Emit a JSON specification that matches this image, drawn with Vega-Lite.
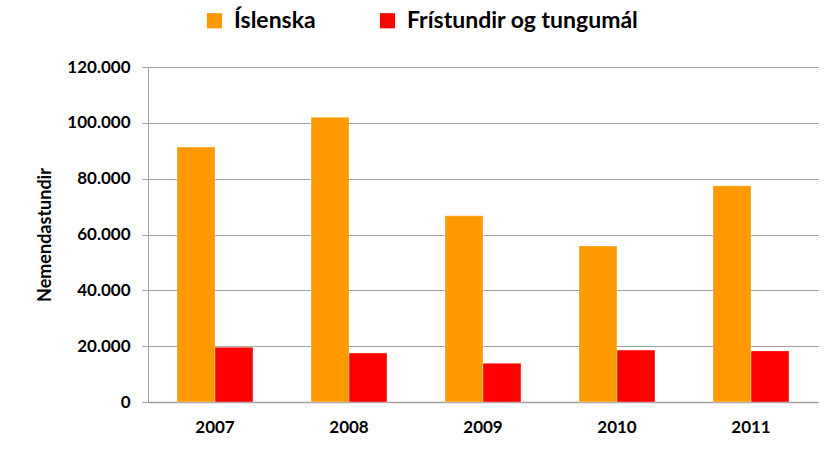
{
  "$schema": "https://vega.github.io/schema/vega-lite/v6.json",
  "autosize": "none",
  "width": 670,
  "height": 335,
  "padding": {"left": 148, "top": 67, "right": 13, "bottom": 47},
  "background": "white",
  "data": {
    "values": [
      {"ar": "2007", "flokkur": "Íslenska", "stundir": 91300},
      {"ar": "2007", "flokkur": "Frístundir og tungumál", "stundir": 19600},
      {"ar": "2008", "flokkur": "Íslenska", "stundir": 102000},
      {"ar": "2008", "flokkur": "Frístundir og tungumál", "stundir": 17550},
      {"ar": "2009", "flokkur": "Íslenska", "stundir": 66700},
      {"ar": "2009", "flokkur": "Frístundir og tungumál", "stundir": 13900},
      {"ar": "2010", "flokkur": "Íslenska", "stundir": 55900},
      {"ar": "2010", "flokkur": "Frístundir og tungumál", "stundir": 18600},
      {"ar": "2011", "flokkur": "Íslenska", "stundir": 77450},
      {"ar": "2011", "flokkur": "Frístundir og tungumál", "stundir": 18300}
    ]
  },
  "mark": {"type": "bar", "stroke": "white", "strokeOpacity": 0.35, "strokeWidth": 1},
  "encoding": {
    "x": {
      "field": "ar",
      "type": "nominal",
      "scale": {"paddingInner": 0.433, "paddingOuter": 0.2165},
      "axis": {
        "title": null,
        "labelAngle": 0,
        "ticks": false,
        "labelPadding": 17,
        "labelFontSize": 17,
        "labelFontWeight": "bold",
        "labelColor": "black",
        "domainColor": "#a0a0a0",
        "domainWidth": 1.5
      }
    },
    "xOffset": {
      "field": "flokkur",
      "type": "nominal",
      "sort": ["Íslenska", "Frístundir og tungumál"],
      "scale": {"paddingInner": 0, "paddingOuter": 0}
    },
    "y": {
      "field": "stundir",
      "type": "quantitative",
      "scale": {"domain": [0, 120000], "nice": false},
      "axis": {
        "title": "Nemendastundir",
        "titleFontSize": 18,
        "titleFontWeight": "bold",
        "titleColor": "black",
        "titlePadding": 12,
        "values": [0, 20000, 40000, 60000, 80000, 100000, 120000],
        "format": ",d",
        "labelFontSize": 17,
        "labelFontWeight": "bold",
        "labelColor": "black",
        "labelPadding": 12,
        "tickSize": 6,
        "tickColor": "#a0a0a0",
        "domainColor": "#a0a0a0",
        "gridColor": "#a0a0a0",
        "gridWidth": 1.2
      }
    },
    "color": {
      "field": "flokkur",
      "type": "nominal",
      "sort": ["Íslenska", "Frístundir og tungumál"],
      "scale": {"domain": ["Íslenska", "Frístundir og tungumál"], "range": ["#ff9900", "#ff0000"]},
      "legend": {
        "title": null,
        "orient": "none",
        "legendX": 55,
        "legendY": -58,
        "direction": "horizontal",
        "symbolType": "square",
        "symbolSize": 230,
        "symbolStrokeWidth": 0,
        "labelFontSize": 23,
        "labelFontWeight": "bold",
        "labelColor": "black",
        "labelLimit": 500,
        "labelOffset": 8,
        "columnPadding": 60,
        "padding": 0
      }
    }
  },
  "config": {
    "font": "Lato",
    "view": {"stroke": null},
    "locale": {
      "number": {"decimal": ",", "thousands": ".", "grouping": [3], "currency": ["", " kr."]}
    }
  }
}
